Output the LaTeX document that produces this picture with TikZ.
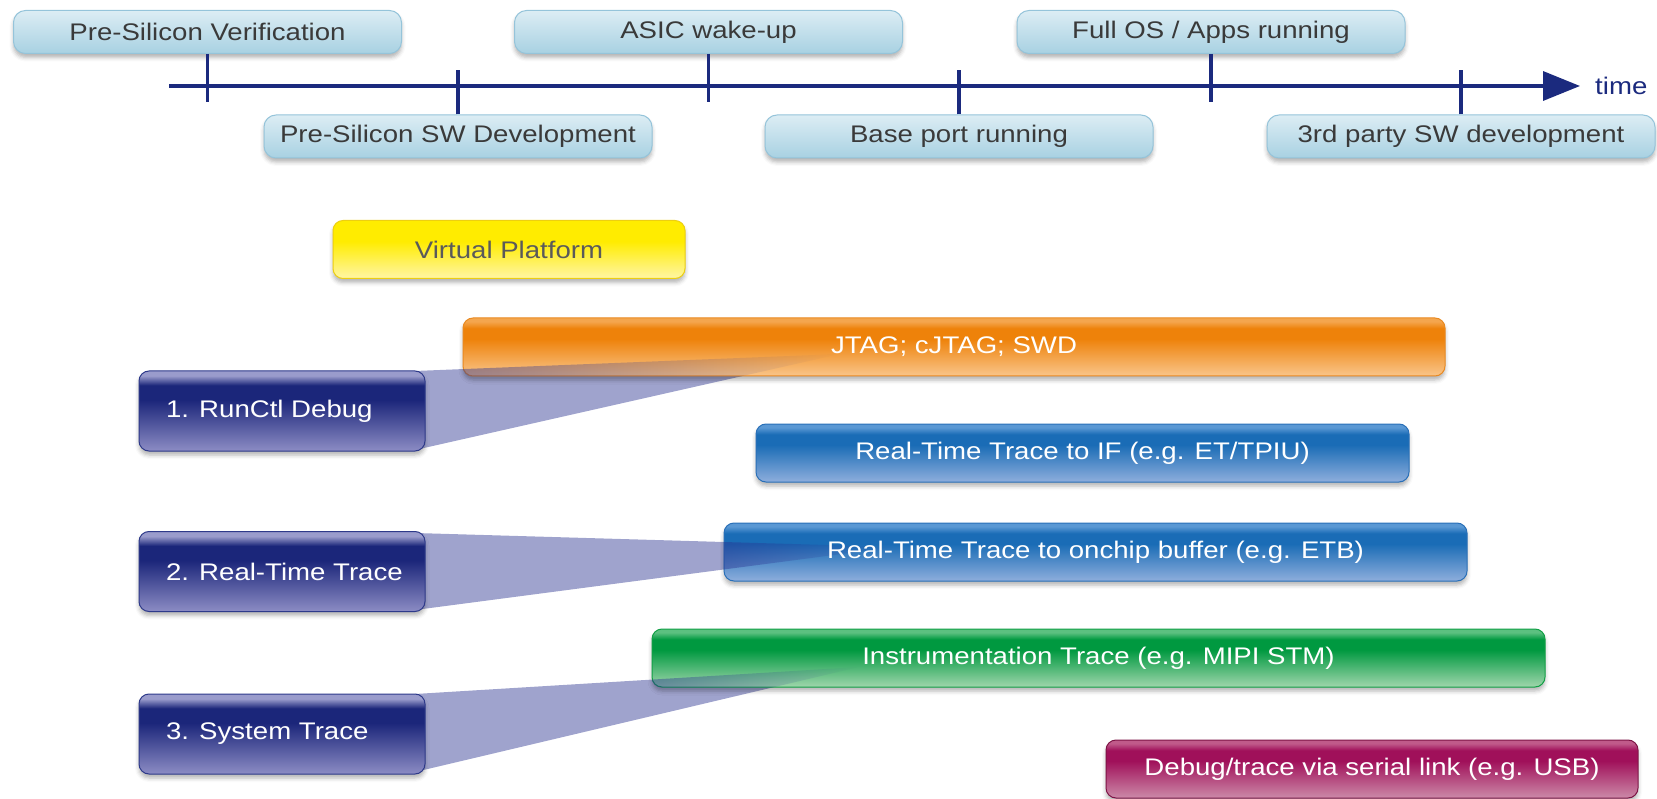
\documentclass[tikz,border=0pt]{standalone}
\usepackage{fontspec}
\setmainfont{Liberation Sans}[FakeStretch=1.15]
\usetikzlibrary{arrows.meta,shadows.blur,fadings,calc}
\definecolor{tlNavy}{HTML}{1B2A7E}
\definecolor{tlTop}{HTML}{DCEDF4}
\definecolor{tlBot}{HTML}{A8D1E2}
\definecolor{tlBd}{HTML}{95C4DA}
\definecolor{tlText}{HTML}{3A3A3A}
\definecolor{vpText}{HTML}{5A5A5A}
\definecolor{yelM}{HTML}{FFEC00}
\definecolor{yelB}{HTML}{FFF6A6}
\definecolor{yelBd}{HTML}{EDCF10}
\definecolor{orH}{HTML}{F4A64E}
\definecolor{orM}{HTML}{EE820A}
\definecolor{orB}{HTML}{F9C58A}
\definecolor{orBd}{HTML}{E98A22}
\definecolor{blH}{HTML}{5A98D4}
\definecolor{blM}{HTML}{1A6CB6}
\definecolor{blB}{HTML}{8EAEDC}
\definecolor{blBd}{HTML}{2A70B8}
\definecolor{grH}{HTML}{5CC080}
\definecolor{grM}{HTML}{009940}
\definecolor{grB}{HTML}{A0D6AC}
\definecolor{grBd}{HTML}{12A046}
\definecolor{mrH}{HTML}{C05A8A}
\definecolor{mrM}{HTML}{A0105A}
\definecolor{mrB}{HTML}{CC8AA8}
\definecolor{mrBd}{HTML}{7E1446}
\definecolor{nvH}{HTML}{9A9CCC}
\definecolor{nvM}{HTML}{1B267A}
\definecolor{nvB}{HTML}{8C8CC4}
\definecolor{nvBd}{HTML}{2E3A8A}
\definecolor{wedgeC}{HTML}{2A3290}
\newcommand{\glossshade}[4]{%
  \pgfdeclareverticalshading{#1}{100bp}{color(0bp)=(#4); color(25bp)=(#4); color(57bp)=(#3); color(66bp)=(#3); color(72bp)=(#2); color(75bp)=(#2); color(100bp)=(#2)}}
\glossshade{orS}{orH}{orM}{orB}
\glossshade{blS}{blH}{blM}{blB}
\glossshade{grS}{grH}{grM}{grB}
\glossshade{mrS}{mrH}{mrM}{mrB}
\glossshade{nvS}{nvH}{nvM}{nvB}
\glossshade{yeS}{yelM}{yelM}{yelB}
\tikzfading[name=wfadeB, left color=transparent!55, right color=transparent!100]
\newcommand{\leftlabel}[1]{\makebox[232pt][l]{#1}}
\begin{document}
\begin{tikzpicture}[x=1pt,y=-1pt,
  font=\fontsize{24}{28}\selectfont,
  shadowed/.style={blur shadow={shadow xshift=0pt, shadow yshift=-4pt, shadow blur radius=4pt, shadow opacity=30}},
  tlbox/.style={shadowed, rounded corners=12pt, draw=tlBd, line width=1pt, top color=tlTop, bottom color=tlBot,
    minimum width=388pt, minimum height=43pt, inner sep=0pt, text=tlText},
  bar/.style={shadowed, rounded corners=10pt, line width=1pt, minimum height=58pt, inner sep=0pt, text=white, shade},
  lbox/.style={bar, shading=nvS, draw=nvBd, minimum height=80pt, minimum width=286pt, inner xsep=27pt},
  tl/.style={draw=tlNavy, line width=3.5pt},
  wedgeA/.style={fill=wedgeC, fill opacity=0.45},
  wedgeB/.style={fill=wedgeC, path fading=wfadeB}]
\useasboundingbox (0,0) rectangle (1657,799);

% timeline boxes
\node[tlbox] (psv)  at (207.5,32) {Pre-Silicon Verification};
\node[tlbox] (asic) at (708.5,32) {ASIC wake-up};
\node[tlbox] (fos)  at (1211,32) {Full OS / Apps running};
\node[tlbox] (pssw) at (458,136.5) {Pre-Silicon SW Development};
\node[tlbox] (bpr)  at (959,136.5) {Base port running};
\node[tlbox] (tps)  at (1461,136.5) {3rd party SW development};

% timeline
\coordinate (tls) at (169,86);
\coordinate (tle) at (1580,86);
\draw[tl, -{Triangle[length=37pt,width=29pt]}] (tls) -- (tle);
\draw[tl] (psv.south) -- ++(0,48);
\draw[tl] (asic.south) -- ++(0,48);
\draw[tl] (fos.south) -- ++(0,48);
\draw[tl] (pssw.north) -- ++(0,-44);
\draw[tl] (bpr.north) -- ++(0,-44);
\draw[tl] (tps.north) -- ++(0,-44);
\node[anchor=west, inner sep=0pt, text=tlNavy] (time) at (1595,86) {time};

\node[bar, shading=yeS, draw=yelBd, text=vpText, minimum width=352pt] (vp) at (509,249.5) {Virtual Platform};

% wedge geometry
\coordinate (a1) at (840,354);
\coordinate (a2) at (895,547);
\coordinate (a3) at (859,667);
\coordinate (w1t) at (415,371);
\coordinate (w1b) at (415,450);
\coordinate (w2t) at (415,533);
\coordinate (w2b) at (415,610);
\coordinate (w3t) at (415,694);
\coordinate (w3b) at (415,772);

% uniform part of the wedges (under the target bars)
\fill[wedgeA] (w1t) -- (a1) -- (w1b) -- cycle;
\fill[wedgeA] (w2t) -- (a2) -- (w2b) -- cycle;
\fill[wedgeA] (w3t) -- (a3) -- (w3b) -- cycle;

% bars
\node[bar, shading=orS, draw=orBd, minimum width=982pt] (jtag) at (954,347) {};
\node[bar, shading=blS, draw=blBd, minimum width=653pt] (rtif) at (1082.5,453) {Real-Time Trace to IF (e.g. ET/TPIU)};
\node[bar, shading=blS, draw=blBd, minimum width=743pt] (rtob) at (1095.5,552) {};
\node[bar, shading=grS, draw=grBd, minimum width=893pt] (itm) at (1098.5,658) {};
\node[bar, shading=mrS, draw=mrBd, minimum width=532pt] (ser) at (1372,769) {Debug/trace via serial link (e.g. USB)};

% fading part of the wedges, over the target bars
\begin{scope}
\clip[rounded corners=10pt] (jtag.north west) rectangle (jtag.south east);
\fill[wedgeB] ($(w1t)!0.11!(a1)$) -- (a1) -- ($(w1b)!0.11!(a1)$) -- cycle;
\end{scope}
\begin{scope}
\clip[rounded corners=10pt] (rtob.north west) rectangle (rtob.south east);
\fill[wedgeB] ($(w2t)!0.64!(a2)$) -- (a2) -- ($(w2b)!0.64!(a2)$) -- cycle;
\end{scope}
\begin{scope}
\clip[rounded corners=10pt] (itm.north west) rectangle (itm.south east);
\fill[wedgeB] ($(w3t)!0.53!(a3)$) -- (a3) -- ($(w3b)!0.53!(a3)$) -- cycle;
\end{scope}

% bar labels (over the wedges)
\node[text=white] (jtagl) at (jtag) {JTAG; cJTAG; SWD};
\node[text=white] (rtobl) at (rtob) {Real-Time Trace to onchip buffer (e.g. ETB)};
\node[text=white] (itml) at (itm) {Instrumentation Trace (e.g. MIPI STM)};

% left boxes
\node[lbox] (rc) at (282,411) {\leftlabel{1. RunCtl Debug}};
\node[lbox] (rt) at (282,571.5) {\leftlabel{2. Real-Time Trace}};
\node[lbox] (st) at (282,734) {\leftlabel{3. System Trace}};
\end{tikzpicture}
\end{document}
